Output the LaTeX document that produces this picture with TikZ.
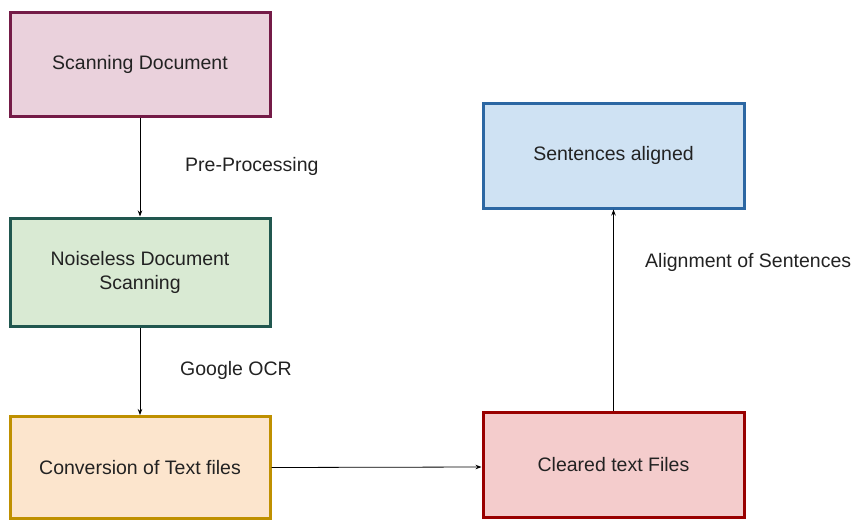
\documentclass[tikz,border=0pt]{standalone}
\usepackage{fontspec}
\setmainfont{Liberation Sans}
\usetikzlibrary{arrows.meta}
\definecolor{pinkfill}{HTML}{EAD1DC}
\definecolor{pinkline}{HTML}{741B47}
\definecolor{greenfill}{HTML}{D9EAD3}
\definecolor{greenline}{HTML}{21574F}
\definecolor{orangefill}{HTML}{FCE5CD}
\definecolor{orangeline}{HTML}{BF9000}
\definecolor{bluefill}{HTML}{CFE2F3}
\definecolor{blueline}{HTML}{2C67A3}
\definecolor{redfill}{HTML}{F4CCCC}
\definecolor{redline}{HTML}{990000}
\definecolor{txt}{HTML}{222222}
\tikzset{
  box/.style={draw, line width=3pt, minimum width=260pt, align=center,
    font=\fontsize{19.5}{24}\selectfont, text=txt, inner sep=0pt},
  lbl/.style={anchor=base west, inner sep=0pt, font=\fontsize{19.5}{24}\selectfont, text=txt},
  conn/.style={line width=0.8pt, -{Stealth[length=6pt,width=4.5pt]}}
}
\begin{document}
\begin{tikzpicture}[x=1pt,y=-1pt]
\useasboundingbox (0,0) rectangle (856,520);
\node[box, fill=pinkfill, draw=pinkline, minimum height=104pt] (scan) at (140,64) {Scanning Document};
\node[box, fill=greenfill, draw=greenline, minimum height=108pt] (noise) at (140,272) {Noiseless Document\\Scanning};
\node[box, fill=orangefill, draw=orangeline, minimum height=102pt] (conv) at (140,467.5) {Conversion of Text files};
\node[box, fill=bluefill, draw=blueline, minimum width=261pt, minimum height=105pt] (sent) at (613.5,155.5) {Sentences aligned};
\node[box, fill=redfill, draw=redline, minimum width=261pt, minimum height=105pt] (clear) at (613.5,465) {Cleared text Files};
\draw[conn] (scan.south) -- (noise.north);
\draw[conn] (noise.south) -- (conv.north);
\draw[conn] (conv.east) -- ([yshift=-2pt]clear.west);
\draw[conn] (clear.north) -- (sent.south);
\node[lbl] (pre) at (185,171.7) {Pre-Processing};
\node[lbl] (ocr) at (180,375) {Google OCR};
\node[lbl] (align) at (645,267.7) {Alignment of Sentences};
\end{tikzpicture}
\end{document}
